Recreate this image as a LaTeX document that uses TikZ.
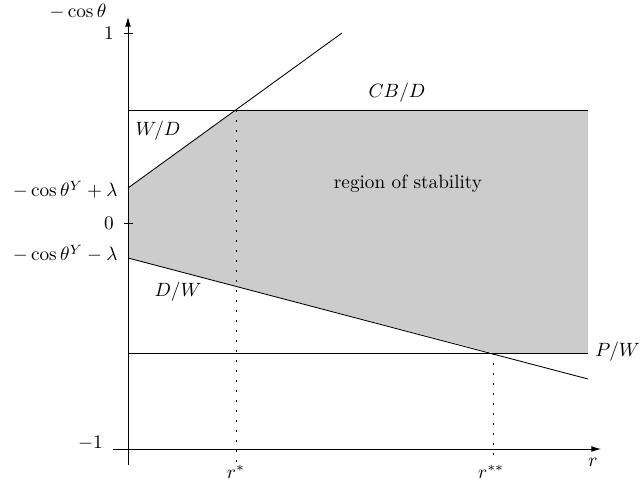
\documentclass[tikz,border=0pt]{standalone}
\usetikzlibrary{arrows.meta}
\begin{document}
\begin{tikzpicture}[x=0.52pt,y=-0.52pt,
  lbl/.style={inner sep=0pt},
  region/.style={fill=black!20},
  guide/.style={line width=0.45pt,dash pattern=on 1pt off 4.2pt},
  axisline/.style={line width=0.5pt},
  curve/.style={line width=0.45pt},
  axarrow/.style={-{Latex[length=5pt,width=3pt]}}]
\useasboundingbox (0,0) rectangle (643,483);
% key points
\coordinate (A) at (128,188);
\coordinate (B) at (236,110);
\coordinate (Wend) at (342,33);
\coordinate (Cl) at (128,110);
\coordinate (C) at (588,110);
\coordinate (Pl) at (128,353);
\coordinate (Pr) at (588,353);
\coordinate (E) at (493,353);
\coordinate (F) at (128,258);
\coordinate (Dend) at (588,379);
\coordinate (Bd) at (236,462);
\coordinate (Ed) at (493,458);
% axes coordinates
\coordinate (yb) at (128,465);
\coordinate (yt) at (128,17);
\coordinate (xl) at (113,449);
\coordinate (xr) at (601,449);
\coordinate (t1l) at (124,33);
\coordinate (t1r) at (133,33);
\coordinate (t0l) at (124,223);
\coordinate (t0r) at (133,223);
% region
\fill[region] (A) -- (B) -- (C) -- (Pr) -- (E) -- (F) -- cycle;
% axes
\draw[axisline,axarrow] (yb) -- (yt);
\draw[axisline,axarrow] (xl) -- (xr);
\draw[axisline] (t1l) -- (t1r);
\draw[axisline] (t0l) -- (t0r);
% lines
\draw[curve] (Cl) -- (C);
\draw[curve] (A) -- (Wend);
\draw[curve] (F) -- (Dend);
\draw[curve] (Pl) -- (Pr);
% guides
\draw[guide] (B) -- (Bd);
\draw[guide] (E) -- (Ed);
% labels
\node[lbl] (ylab) at (78,12) {$-\cos\theta$};
\node[lbl,anchor=east] (one) at (114,33) {$1$};
\node[lbl,anchor=east] (zero) at (114,223) {$0$};
\node[lbl,anchor=base east] (lp) at (118,197) {$-\cos\theta^Y+\lambda$};
\node[lbl,anchor=base east] (lm) at (118,261) {$-\cos\theta^Y-\lambda$};
\node[lbl,anchor=base east] (mone) at (103,448) {$-1$};
\node[lbl,anchor=base] (rlab) at (593,466) {$r$};
\node[lbl,anchor=base] (rs) at (236,478) {$r^*$};
\node[lbl,anchor=base] (rss) at (491,478) {$r^{**}$};
\node[lbl] (wd) at (158,131) {$W/D$};
\node[lbl] (dw) at (178,292) {$D/W$};
\node[lbl] (cbd) at (397,93) {$CB/D$};
\node[lbl] (ros) at (408,184) {region of stability};
\node[lbl,anchor=west] (pw) at (595,352) {$P/W$};
\end{tikzpicture}
\end{document}
